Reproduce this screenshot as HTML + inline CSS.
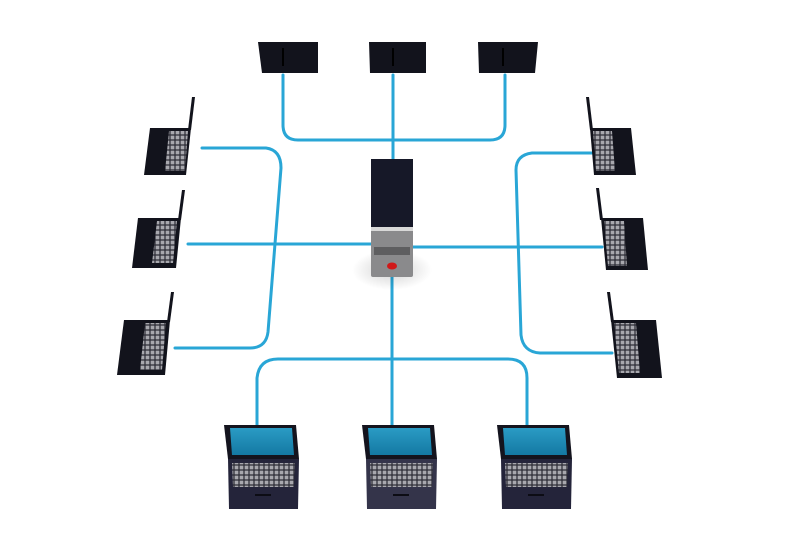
<!DOCTYPE html>
<html><head><style>html,body{margin:0;padding:0;background:#fff}svg{display:block}</style></head>
<body>
<svg width="800" height="534" viewBox="0 0 800 534" xmlns="http://www.w3.org/2000/svg">
<defs>
<pattern id="kb" width="5" height="5" patternUnits="userSpaceOnUse"><rect width="5" height="5" fill="#2a2a33"/><rect x="0.6" y="0.6" width="3.8" height="3.8" fill="#a8a8ae"/></pattern>
<radialGradient id="sh"><stop offset="0" stop-color="#000" stop-opacity="0.18"/><stop offset="1" stop-color="#000" stop-opacity="0"/></radialGradient>
<linearGradient id="scr" x1="0" y1="0" x2="0" y2="1"><stop offset="0" stop-color="#2a9bc4"/><stop offset="1" stop-color="#1479a3"/></linearGradient>
</defs>
<g fill="none" stroke="#29a6d6" stroke-width="3" stroke-linecap="round">
<!-- top -->
<path d="M283 75 V125 Q283 140 298 140 H490 Q505 140 505 125 V75"/>
<path d="M393 75 V160"/>
<!-- left -->
<path d="M202 148 H266 Q281 150 281 168 L268 332 Q266 348 250 348 H175"/>
<path d="M188 244 H371"/>
<!-- right -->
<path d="M592 153 H532 Q516 155 516 170 L521 335 Q523 352 540 353 H612"/>
<path d="M413 247 H602"/>
<!-- bottom -->
<path d="M392 277 V425"/>
<path d="M257 425 V378 Q259 359 278 359 H508 Q527 359 527 378 V425"/>
</g>
<!-- shadows -->
<ellipse cx="392" cy="270" rx="40" ry="20" fill="url(#sh)"/>
<!-- server -->
<rect x="371" y="159" width="42" height="68" fill="#161828"/>
<rect x="371" y="227" width="42" height="50" rx="2" fill="#8a8a8c"/>
<rect x="371" y="227" width="42" height="4" fill="#d8d8d8"/>
<rect x="374" y="247" width="36" height="8" fill="#5e5e60"/>
<ellipse cx="392" cy="266" rx="5" ry="3.5" fill="#d01818"/>
<!-- top laptops (back) -->
<g fill="#12131c">
<path d="M258 42 H318 V73 H262 Z"/>
<path d="M369 42 H426 V73 H370 Z"/>
<path d="M478 42 H538 L535 73 H479 Z"/>
</g>
<g fill="#000"><rect x="282" y="48" width="2" height="18"/><rect x="392" y="48" width="2" height="18"/><rect x="502" y="48" width="2" height="18"/></g>
<!-- left laptops -->
<g>
<path d="M192 97 L195 97 L191 130 L188 130 Z" fill="#12131c"/>
<path d="M150 128 H191 L186 175 H144 Z" fill="#12131c"/><path d="M169 131 H188 L185 171 H165 Z" fill="url(#kb)"/>
<path d="M182 190 L185 190 L181 220 L178 220 Z" fill="#12131c"/>
<path d="M138 218 H181 L176 268 H132 Z" fill="#12131c"/><path d="M157 221 H177 L173 263 H152 Z" fill="url(#kb)"/>
<path d="M171 292 L174 292 L170 322 L167 322 Z" fill="#12131c"/>
<path d="M124 320 H170 L165 375 H117 Z" fill="#12131c"/><path d="M145 323 H166 L162 370 H140 Z" fill="url(#kb)"/>
</g>
<!-- right laptops -->
<g>
<path d="M586 97 L589 97 L593 130 L590 130 Z" fill="#12131c"/>
<path d="M590 128 H631 L636 175 H594 Z" fill="#12131c"/><path d="M593 131 H612 L615 171 H596 Z" fill="url(#kb)"/>
<path d="M596 188 L599 188 L603 220 L600 220 Z" fill="#12131c"/>
<path d="M601 218 H643 L648 270 H606 Z" fill="#12131c"/><path d="M604 221 H624 L627 266 H608 Z" fill="url(#kb)"/>
<path d="M607 292 L610 292 L614 322 L611 322 Z" fill="#12131c"/>
<path d="M611 320 H656 L662 378 H617 Z" fill="#12131c"/><path d="M614 323 H636 L640 373 H619 Z" fill="url(#kb)"/>
</g>
<!-- bottom laptops -->
<g>
<g transform="translate(224,425)">
<path d="M0 0 H72 L75 34 H4 Z" fill="#14141e"/><path d="M6 3 H68 L70 30 H8 Z" fill="url(#scr)"/>
<path d="M4 34 H75 L74 84 H5 Z" fill="#24243a"/><path d="M8 38 H71 L70 62 H9 Z" fill="url(#kb)"/>
<rect x="31" y="69" width="16" height="2" fill="#0c0c14"/>
</g>
<g transform="translate(362,425)">
<path d="M0 0 H72 L75 34 H4 Z" fill="#14141e"/><path d="M6 3 H68 L70 30 H8 Z" fill="url(#scr)"/>
<path d="M4 34 H75 L74 84 H5 Z" fill="#34344a"/><path d="M8 38 H71 L70 62 H9 Z" fill="url(#kb)"/>
<rect x="31" y="69" width="16" height="2" fill="#0c0c14"/>
</g>
<g transform="translate(497,425)">
<path d="M0 0 H72 L75 34 H4 Z" fill="#14141e"/><path d="M6 3 H68 L70 30 H8 Z" fill="url(#scr)"/>
<path d="M4 34 H75 L74 84 H5 Z" fill="#24243a"/><path d="M8 38 H71 L70 62 H9 Z" fill="url(#kb)"/>
<rect x="31" y="69" width="16" height="2" fill="#0c0c14"/>
</g>
</g>
</svg>
</body></html>
